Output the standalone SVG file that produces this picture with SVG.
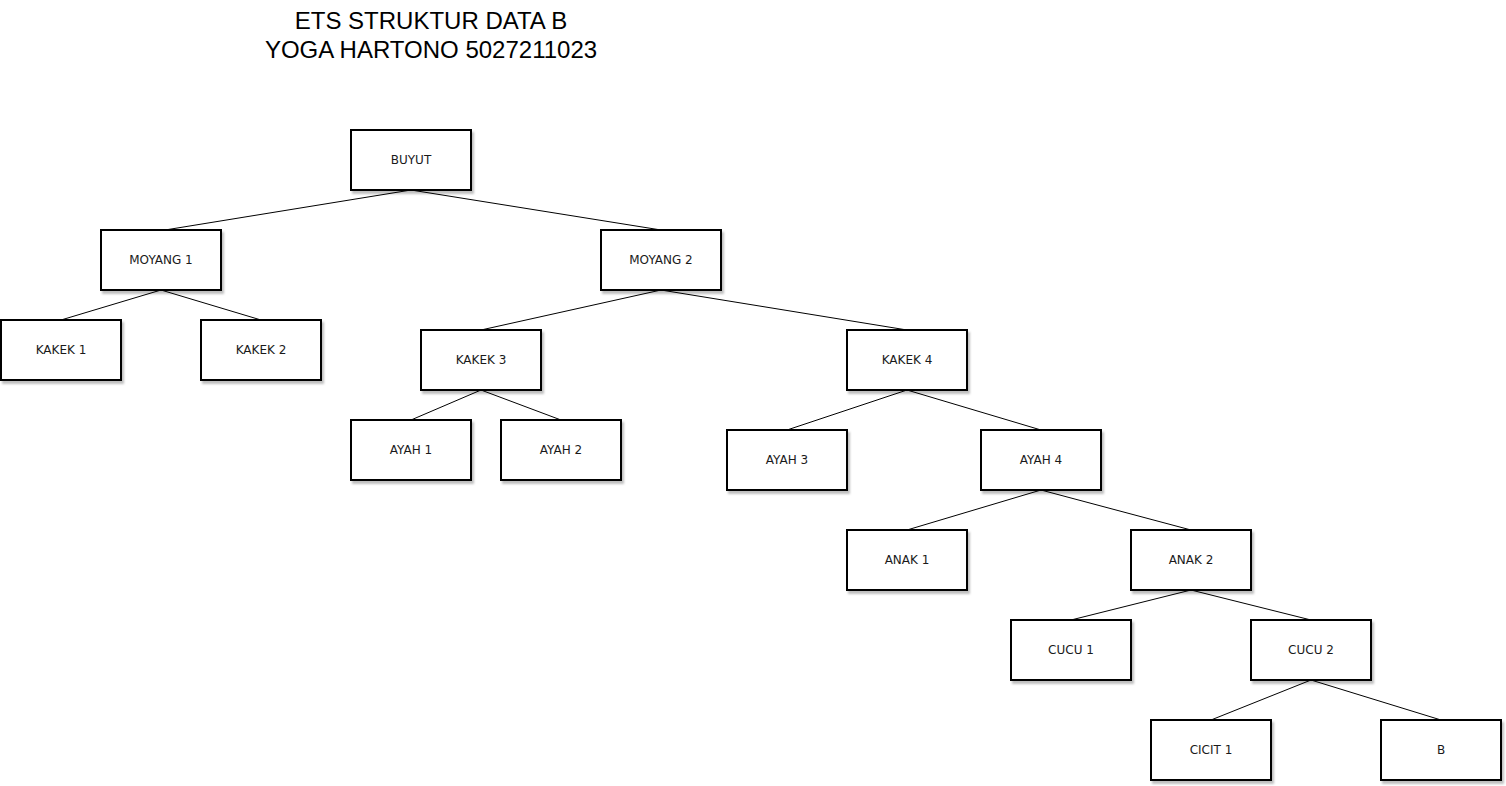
<svg xmlns="http://www.w3.org/2000/svg" width="1506" height="786" viewBox="0 0 1506 786">
<style>
.n rect{fill:#fff;stroke:#000;stroke-width:2;filter:url(#sh)}
.n text{font-family:"DejaVu Sans",Verdana,sans-serif;font-size:12px;fill:#1a1a1a;text-anchor:middle}
.e line{stroke:#000;stroke-width:1}
.t{font-family:"Liberation Sans",Arial,sans-serif;font-size:24px;fill:#000;text-anchor:middle}
</style>
<defs>
<filter id="sh" x="-10%" y="-10%" width="130%" height="140%">
<feDropShadow dx="2" dy="3" stdDeviation="1.2" flood-color="#000" flood-opacity="0.25"/>
</filter>
</defs>
<rect width="1506" height="786" fill="#fff"/>
<g id="title">
<text class="t" x="431" y="29">ETS STRUKTUR DATA B</text>
<text class="t" x="431" y="58">YOGA HARTONO 5027211023</text>
</g>
<g id="connectors" class="e">
<line x1="411" y1="190" x2="165" y2="230"/>
<line x1="411" y1="190" x2="661" y2="230"/>
<line x1="161" y1="290" x2="61" y2="320"/>
<line x1="161" y1="290" x2="261" y2="320"/>
<line x1="661" y1="290" x2="481" y2="330"/>
<line x1="661" y1="290" x2="907" y2="330"/>
<line x1="481" y1="390" x2="411" y2="420"/>
<line x1="481" y1="390" x2="561" y2="420"/>
<line x1="907" y1="390" x2="787" y2="430"/>
<line x1="907" y1="390" x2="1041" y2="430"/>
<line x1="1041" y1="490" x2="907" y2="530"/>
<line x1="1041" y1="490" x2="1191" y2="530"/>
<line x1="1191" y1="590" x2="1071" y2="620"/>
<line x1="1191" y1="590" x2="1311" y2="620"/>
<line x1="1311" y1="680" x2="1211" y2="720"/>
<line x1="1311" y1="680" x2="1441" y2="720"/>
</g>
<g id="buyut" class="n"><rect x="351" y="130" width="120" height="60"/><text x="411" y="164">BUYUT</text></g>
<g id="moyang1" class="n"><rect x="101" y="230" width="120" height="60"/><text x="161" y="264">MOYANG 1</text></g>
<g id="moyang2" class="n"><rect x="601" y="230" width="120" height="60"/><text x="661" y="264">MOYANG 2</text></g>
<g id="kakek1" class="n"><rect x="1" y="320" width="120" height="60"/><text x="61" y="354">KAKEK 1</text></g>
<g id="kakek2" class="n"><rect x="201" y="320" width="120" height="60"/><text x="261" y="354">KAKEK 2</text></g>
<g id="kakek3" class="n"><rect x="421" y="330" width="120" height="60"/><text x="481" y="364">KAKEK 3</text></g>
<g id="kakek4" class="n"><rect x="847" y="330" width="120" height="60"/><text x="907" y="364">KAKEK 4</text></g>
<g id="ayah1" class="n"><rect x="351" y="420" width="120" height="60"/><text x="411" y="454">AYAH 1</text></g>
<g id="ayah2" class="n"><rect x="501" y="420" width="120" height="60"/><text x="561" y="454">AYAH 2</text></g>
<g id="ayah3" class="n"><rect x="727" y="430" width="120" height="60"/><text x="787" y="464">AYAH 3</text></g>
<g id="ayah4" class="n"><rect x="981" y="430" width="120" height="60"/><text x="1041" y="464">AYAH 4</text></g>
<g id="anak1" class="n"><rect x="847" y="530" width="120" height="60"/><text x="907" y="564">ANAK 1</text></g>
<g id="anak2" class="n"><rect x="1131" y="530" width="120" height="60"/><text x="1191" y="564">ANAK 2</text></g>
<g id="cucu1" class="n"><rect x="1011" y="620" width="120" height="60"/><text x="1071" y="654">CUCU 1</text></g>
<g id="cucu2" class="n"><rect x="1251" y="620" width="120" height="60"/><text x="1311" y="654">CUCU 2</text></g>
<g id="cicit1" class="n"><rect x="1151" y="720" width="120" height="60"/><text x="1211" y="754">CICIT 1</text></g>
<g id="b" class="n"><rect x="1381" y="720" width="120" height="60"/><text x="1441" y="754">B</text></g>
</svg>
